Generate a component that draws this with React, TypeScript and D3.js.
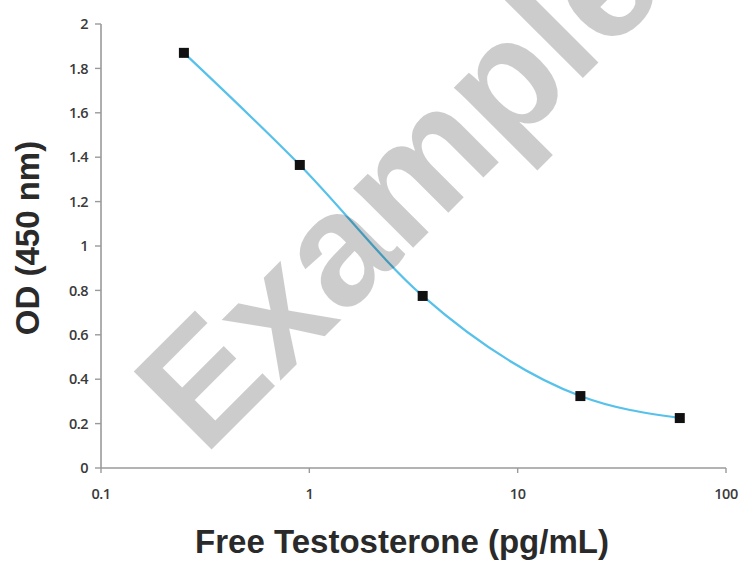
import React from 'react';
import * as d3 from 'd3';

// standard curve
const concentrations = [0.25, 0.9, 3.5, 20, 60];
const odValues = [1.87, 1.365, 0.775, 0.324, 0.225];

const yTicks = [0, 0.2, 0.4, 0.6, 0.8, 1, 1.2, 1.4, 1.6, 1.8, 2];
const yTickLabels = ['0', '0.2', '0.4', '0.6', '0.8', '1', '1.2', '1.4', '1.6', '1.8', '2'];
const xTicks = [0.1, 1, 10, 100];
const xTickLabels = ['0.1', '1', '10', '100'];

const W = 745;
const H = 562;

const axisColor = '#9a9a9a';
const tickTextColor = '#3a3a3a';
const lineColor = '#56c1ea';
const tickFont = '"Open Sans", "DejaVu Sans", sans-serif';
const titleFont = '"Liberation Sans", Arial, sans-serif';

export default function App() {
  const x = d3.scaleLog().domain([0.1, 100]).range([101, 726]);
  const y = d3.scaleLinear().domain([0, 2]).range([468, 24]);

  const points = concentrations.map((c, i) => [x(c), y(odValues[i])] as [number, number]);
  const line = d3.line().curve(d3.curveMonotoneX)(points) || '';

  const x0 = x(0.1);
  const y0 = y(0);

  return (
    <svg
      width={W}
      height={H}
      style={{position: 'absolute', left: 0, top: 0, background: '#fff'}}>
      {/* axes */}
      <line x1={x0} x2={x0} y1={y(2)} y2={y0} stroke={axisColor} strokeWidth={1.6} />
      <line x1={x0} x2={x(100)} y1={y0} y2={y0} stroke={axisColor} strokeWidth={1.6} />
      {yTicks.map((t, i) => (
        <g key={'y' + i}>
          <line x1={x0 - 6} x2={x0} y1={y(t)} y2={y(t)} stroke={axisColor} strokeWidth={1.4} />
          <text
            x={x0 - 13}
            y={y(t)}
            dy="0.36em"
            textAnchor="end"
            fontFamily={tickFont}
            fontWeight={600}
            fontSize={14.5}
            letterSpacing={-0.5}
            fill={tickTextColor}>
            {yTickLabels[i]}
          </text>
        </g>
      ))}
      {xTicks.map((t, i) => (
        <g key={'x' + i}>
          <line x1={x(t)} x2={x(t)} y1={y0} y2={y0 + 5} stroke={axisColor} strokeWidth={1.4} />
          <text
            x={x(t)}
            y={y0 + 31}
            textAnchor="middle"
            fontFamily={tickFont}
            fontWeight={600}
            fontSize={14.5}
            letterSpacing={-0.5}
            fill={tickTextColor}>
            {xTickLabels[i]}
          </text>
        </g>
      ))}

      {/* titles */}
      <text
        x={402}
        y={553}
        textAnchor="middle"
        fontFamily={titleFont}
        fontWeight="bold"
        fontSize={33}
        fill="#2a2a2a">
        Free Testosterone (pg/mL)
      </text>
      <text
        transform={`translate(39, 238) rotate(-90)`}
        textAnchor="middle"
        fontFamily={titleFont}
        fontWeight="bold"
        fontSize={33}
        fill="#2a2a2a">
        OD (450 nm)
      </text>

      {/* curve and points */}
      <path d={line} fill="none" stroke={lineColor} strokeWidth={2.2} />
      {points.map(([px, py], i) => (
        <rect key={'p' + i} x={px - 5} y={py - 5} width={10} height={10} fill="#111" />
      ))}

      {/* watermark */}
      <text
        transform="translate(204, 457) rotate(-45)"
        fontFamily={titleFont}
        fontWeight="bold"
        fontSize={160}
        fill="#000"
        fillOpacity={0.2}>
        Example
      </text>
    </svg>
  );
}
